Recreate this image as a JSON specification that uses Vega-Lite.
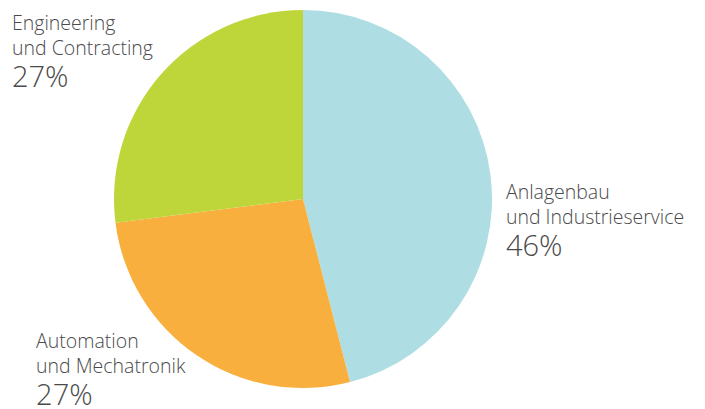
{
  "$schema": "https://vega.github.io/schema/vega-lite/v6.json",
  "width": 606,
  "height": 398,
  "autosize": {"type": "none"},
  "padding": {"left": 0, "top": 0, "right": 99, "bottom": 11},
  "background": "white",
  "view": {"stroke": null},
  "data": {
    "values": [
      {"name": "Anlagenbau", "label": "Anlagenbau\nund Industrieservice", "value": 46, "pct": "46%"},
      {"name": "Automation", "label": "Automation\nund Mechatronik", "value": 27, "pct": "27%"},
      {"name": "Engineering", "label": "Engineering\nund Contracting", "value": 27, "pct": "27%"}
    ]
  },
  "encoding": {
    "theta": {"field": "value", "type": "quantitative", "stack": true},
    "order": {"field": "name", "type": "nominal", "sort": "ascending"},
    "detail": {"field": "name", "type": "nominal"}
  },
  "layer": [
    {
      "mark": {"type": "arc", "outerRadius": 189},
      "encoding": {
        "color": {
          "field": "name",
          "type": "nominal",
          "scale": {"domain": ["Anlagenbau", "Automation", "Engineering"], "range": ["#AEDDE3", "#F8AF3D", "#BED63A"]},
          "legend": null
        }
      }
    },
    {
      "mark": {"type": "text", "radius": 200, "align": "left", "baseline": "alphabetic", "dx": 4.5, "dy": 25, "fontSize": 19.5, "lineHeight": 25, "lineBreak": "\n", "font": "Open Sans", "fontWeight": 300, "color": "#4a4a4a"},
      "encoding": {"text": {"condition": {"test": "datum.name === 'Anlagenbau'", "field": "label"}, "value": ""}}
    },
    {
      "mark": {"type": "text", "radius": 200, "align": "left", "baseline": "alphabetic", "dx": 4.5, "dy": 82, "fontSize": 29, "font": "Open Sans", "fontWeight": 300, "color": "#4a4a4a"},
      "encoding": {"text": {"condition": {"test": "datum.name === 'Anlagenbau'", "field": "pct"}, "value": ""}}
    },
    {
      "mark": {"type": "text", "radius": 200, "align": "left", "baseline": "alphabetic", "dx": -154.5, "dy": -16.5, "fontSize": 19.5, "lineHeight": 25, "lineBreak": "\n", "font": "Open Sans", "fontWeight": 300, "color": "#4a4a4a"},
      "encoding": {"text": {"condition": {"test": "datum.name === 'Automation'", "field": "label"}, "value": ""}}
    },
    {
      "mark": {"type": "text", "radius": 200, "align": "left", "baseline": "alphabetic", "dx": -154.5, "dy": 40.5, "fontSize": 29, "font": "Open Sans", "fontWeight": 300, "color": "#4a4a4a"},
      "encoding": {"text": {"condition": {"test": "datum.name === 'Automation'", "field": "pct"}, "value": ""}}
    },
    {
      "mark": {"type": "text", "radius": 200, "align": "left", "baseline": "alphabetic", "dx": -141, "dy": -37, "fontSize": 19.5, "lineHeight": 25, "lineBreak": "\n", "font": "Open Sans", "fontWeight": 300, "color": "#4a4a4a"},
      "encoding": {"text": {"condition": {"test": "datum.name === 'Engineering'", "field": "label"}, "value": ""}}
    },
    {
      "mark": {"type": "text", "radius": 200, "align": "left", "baseline": "alphabetic", "dx": -141, "dy": 20.5, "fontSize": 29, "font": "Open Sans", "fontWeight": 300, "color": "#4a4a4a"},
      "encoding": {"text": {"condition": {"test": "datum.name === 'Engineering'", "field": "pct"}, "value": ""}}
    }
  ]
}
